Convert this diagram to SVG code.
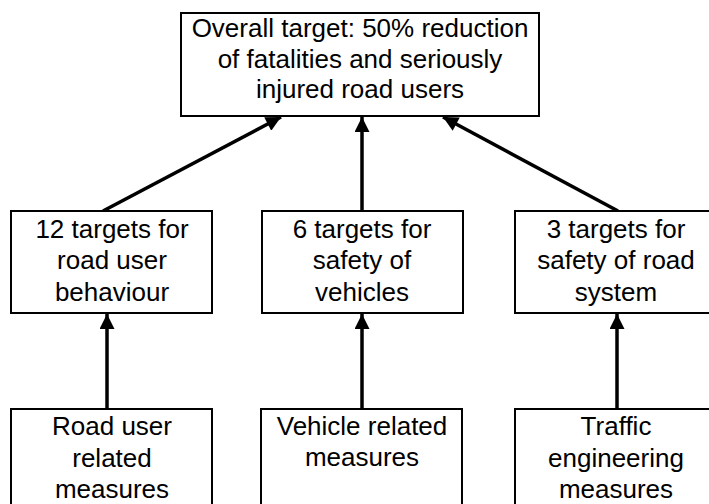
<svg xmlns="http://www.w3.org/2000/svg" width="709" height="504" viewBox="0 0 709 504">
<style>
.box{fill:#fff;stroke:#000;stroke-width:2}
.t{font-family:"Liberation Sans",Arial,sans-serif;font-size:26px;fill:#000;text-anchor:middle}
.c{stroke:#000;stroke-width:3.5;fill:none;marker-end:url(#ah)}
</style>
<defs>
<marker id="ah" viewBox="0 0 10 10" refX="10" refY="5" markerUnits="userSpaceOnUse" markerWidth="17" markerHeight="15" orient="auto">
<path d="M0,0 L10,5 L0,10 z" fill="#000"/>
</marker>
</defs>
<rect width="709" height="504" fill="#fff"/>
<g id="connectors">
<line class="c" x1="103" y1="211" x2="281" y2="117"/>
<line class="c" x1="362" y1="211" x2="362" y2="117"/>
<line class="c" x1="618" y1="211" x2="443" y2="117"/>
<line class="c" x1="107" y1="409" x2="107" y2="314"/>
<line class="c" x1="362" y1="409" x2="362" y2="314"/>
<line class="c" x1="617" y1="409" x2="617" y2="314"/>
</g>
<g id="overall">
<rect class="box" x="181" y="13" width="358" height="103"/>
<text class="t" x="360" y="37">Overall target: 50% reduction</text>
<text class="t" x="360" y="68">of fatalities and seriously</text>
<text class="t" x="360" y="98">injured road users</text>
</g>
<g id="behaviour">
<rect class="box" x="11" y="211" width="201" height="102"/>
<text class="t" x="112" y="238">12 targets for</text>
<text class="t" x="112" y="269">road user</text>
<text class="t" x="112" y="301">behaviour</text>
</g>
<g id="vehicles">
<rect class="box" x="262" y="211" width="201" height="102"/>
<text class="t" x="362" y="238">6 targets for</text>
<text class="t" x="362" y="269">safety of</text>
<text class="t" x="362" y="301">vehicles</text>
</g>
<g id="roadsystem">
<rect class="box" x="515" y="211" width="202" height="102"/>
<text class="t" x="616" y="238">3 targets for</text>
<text class="t" x="616" y="269">safety of road</text>
<text class="t" x="616" y="301">system</text>
</g>
<g id="roaduser-measures">
<rect class="box" x="11" y="409" width="201" height="110"/>
<text class="t" x="112" y="435">Road user</text>
<text class="t" x="112" y="467">related</text>
<text class="t" x="112" y="498">measures</text>
</g>
<g id="vehicle-measures">
<rect class="box" x="261" y="409" width="201" height="110"/>
<text class="t" x="362" y="435">Vehicle related</text>
<text class="t" x="362" y="466">measures</text>
</g>
<g id="traffic-measures">
<rect class="box" x="515" y="409" width="202" height="110"/>
<text class="t" x="616" y="435">Traffic</text>
<text class="t" x="616" y="467">engineering</text>
<text class="t" x="616" y="498">measures</text>
</g>
</svg>
